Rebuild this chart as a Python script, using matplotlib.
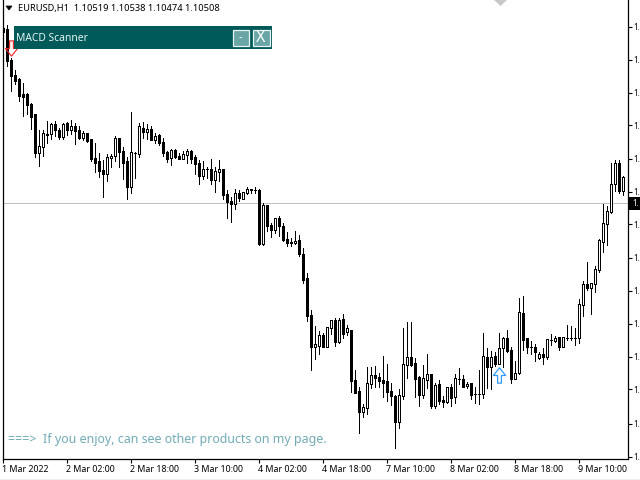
import matplotlib
matplotlib.use("Agg")
import matplotlib.pyplot as plt
from matplotlib.patches import Rectangle, Polygon
from matplotlib.path import Path
from matplotlib.transforms import Affine2D, ScaledTranslation

symbol_line = "EURUSD,H1  1.10519 1.10538 1.10474 1.10508"
panel_title = "MACD Scanner"
footer_note = "===>  If you enjoy, can see other products on my page."
time_labels = ["1 Mar 2022", "2 Mar 02:00", "2 Mar 18:00", "3 Mar 10:00", "4 Mar 02:00",
               "4 Mar 18:00", "7 Mar 10:00", "8 Mar 02:00", "8 Mar 18:00", "9 Mar 10:00"]

# pips above 1.0754
highs = [478,475,443,431,423,417,408,397,387,371,371,380,377,380,373,378,379,381,377,374,
         370,368,362,358,348,341,347,347,365,363,353,344,389,349,377,379,376,374,368,367,
         363,350,352,352,348,350,352,351,346,341,340,333,342,333,341,332,311,304,312,311,
         309,313,312,313,312,298,295,278,283,285,278,269,263,270,266,252,228,191,175,170,
         168,173,180,183,183,187,176,171,131,113,97,133,134,135,128,145,137,118,106,111,
         172,179,179,143,125,136,147,127,118,121,105,113,117,127,132,126,119,117,113,131,
         168,152,150,149,168,164,171,153,140,203,205,163,160,157,149,152,162,167,165,164,
         164,176,174,172,202,220,239,218,234,262,296,294,337,341,341,325]
opens = [473,472,440,426,421,407,406,396,386,348,353,366,367,376,371,364,377,371,374,371,
         363,368,361,343,339,331,327,343,345,362,350,339,313,348,347,373,369,372,361,365,
         358,349,343,351,345,342,346,350,343,337,325,332,332,321,329,332,307,300,297,308,
         302,308,312,311,311,257,295,275,271,282,274,262,259,258,260,247,222,186,153,155,
         166,154,172,181,159,181,169,171,120,109,89,93,117,126,124,121,119,110,105,79,
         105,136,144,137,123,106,121,127,95,116,101,99,113,104,122,122,115,117,107,107,
         107,144,134,145,137,152,162,151,122,128,188,162,153,153,143,147,144,161,160,163,
         153,163,163,163,163,196,216,212,217,231,259,277,289,316,337,310]
closes = [469,440,425,420,405,404,395,384,348,354,367,367,376,371,364,376,371,374,370,363,
          368,360,342,338,330,327,343,345,362,349,338,313,348,348,374,369,372,361,365,357,
          348,342,351,344,342,347,350,342,336,325,332,332,321,330,332,306,299,297,308,303,
          309,312,311,311,257,295,274,271,282,274,261,258,258,260,247,221,185,154,156,166,
          154,173,180,159,181,167,172,120,108,89,93,118,126,123,120,118,109,105,79,106,
          136,144,136,122,106,122,127,95,116,100,99,113,103,122,122,114,117,106,107,107,
          144,134,144,137,152,162,150,122,128,188,161,153,153,149,147,144,161,161,163,153,
          163,163,163,163,196,216,212,217,232,260,277,290,316,337,310,323]
lows = [467,434,410,416,400,385,387,372,344,334,345,358,362,365,362,362,366,367,356,362,
        361,359,340,329,324,304,320,333,340,333,322,302,308,323,344,363,362,361,358,355,
        345,339,335,343,342,342,338,337,327,316,322,323,317,309,320,302,283,279,292,300,
        302,307,308,308,255,256,270,264,268,265,260,254,254,257,245,218,180,131,142,147,
        154,154,167,155,158,163,166,109,108,68,84,87,112,113,113,104,100,96,52,72,
        102,123,135,104,95,103,112,92,93,97,94,98,95,98,117,114,112,102,98,97,
        103,112,111,135,137,134,149,118,122,127,151,148,147,140,142,137,142,156,159,151,
        153,161,161,156,158,185,211,187,209,229,249,256,288,310,308,306]
sell_signal = (2, 453)
buy_signal = (124, 126)
current_level = 297.7
axis_levels = [474,441,408,375,342,309,276,243,210,177,144,111,77,44]

BASE = 1.0754
to_price = lambda p: BASE + p / 10000.0

W, H = 640, 480
ONE_PX = 0.72
fig = plt.figure(figsize=(6.4, 4.8), dpi=100, facecolor="white")
fig.add_artist(Rectangle((0, 0), 1, 1.5 / H, transform=fig.transFigure, fc="#f0f0f0", ec="none"))
ax = fig.add_axes([2.5 / W, (H - 458.5) / H, 625 / W, 458.5 / H])
ax.set_facecolor("white")
ax.set_xlim((2.5 - 2.9) / 4, (627.5 - 2.9) / 4)
ax.set_ylim(to_price(500.5 - 458.5), to_price(500.5))

ax.axhline(to_price(current_level), color="#c0c0c0", lw=ONE_PX, zorder=1)

for i, (h, o, c, l) in enumerate(zip(highs, opens, closes, lows)):
    ax.vlines(i, to_price(l), to_price(h), color="black", lw=ONE_PX, zorder=2, antialiased=False)
    up = c >= o
    bot, top = (o, c) if up else (c, o)
    ax.add_patch(Rectangle((i - 0.25, to_price(bot)), 0.5, to_price(top) - to_price(bot),
                           fc="white" if up else "black", ec="black", lw=ONE_PX, zorder=3,
                           antialiased=False))

arrow_up = Path([(-.25, -1), (.25, -1), (.25, 0), (.8, 0), (0, 1), (-.8, 0), (-.25, 0), (-.25, -1)], closed=True)
arrow_down = Path([(-.25, 1), (.25, 1), (.25, 0), (.8, 0), (0, -1), (-.8, 0), (-.25, 0), (-.25, 1)], closed=True)
ax.plot([buy_signal[0]], [to_price(buy_signal[1])], marker=arrow_up, ms=11, mfc="white",
        mec="#3399ff", mew=0.9, zorder=5, ls="none")
ax.plot([sell_signal[0]], [to_price(sell_signal[1])], marker=arrow_down, ms=11, mfc="none",
        mec="#ee2222", mew=0.8, zorder=5, ls="none")

ax.spines["top"].set_visible(False)
for s in ["left", "right", "bottom"]:
    ax.spines[s].set_linewidth(0.9)

UI = "Noto Sans"
ax.set_xticks([16 * k for k in range(len(time_labels))])
ax.set_xticklabels(time_labels, ha="left", fontsize=6.4, family=UI)
ax.tick_params(axis="x", length=3, width=0.8, pad=1.5, color="black")
shift = ScaledTranslation(-1 / 100, 0, fig.dpi_scale_trans)
for t in ax.get_xticklabels():
    t.set_transform(t.get_transform() + shift)
ax.yaxis.tick_right()
ax.set_yticks([to_price(p) for p in axis_levels])
ax.set_yticklabels(["1."] * len(axis_levels), fontsize=5.8, family=UI, fontweight="medium")
ax.tick_params(axis="y", length=3, width=0.8, pad=1.5, color="black")

px = Affine2D().scale(1, -1).translate(0, H)

def rect(x, y, w, h, **kw):
    fig.add_artist(Rectangle((x, y), w, h, transform=px, **kw))

def label(x, y, s, **kw):
    fig.text(x, y, s, transform=px, va="center", family=UI, **kw)

# price tag
rect(629, 197, 11, 12.5, fc="black", ec="none", zorder=6)
label(632, 203.5, "1.", color="white", fontsize=5.8, zorder=7, fontweight="bold")

# header
fig.add_artist(Polygon([(6, 6), (12, 6), (9, 10)], transform=px, fc="black", ec="black", lw=0.5))
label(18, 8, symbol_line, fontsize=6.7, color="black")

# scanner panel
rect(14, 26, 258, 23, fc="#005a5a", ec="none", zorder=8)
label(16, 38.5, panel_title, fontsize=7.4, color="#e8f4f4", zorder=9)
rect(232.5, 29.5, 16, 16, fc="#6aa6a6", ec="#e8f4f4", lw=0.9, zorder=9)
rect(252.5, 29.5, 17, 16, fc="#6aa6a6", ec="#e8f4f4", lw=0.9, zorder=9)
label(240.5, 38, "-", fontsize=8, color="white", ha="center", zorder=10)
label(261, 38, "X", fontsize=11.5, color="white", ha="center", zorder=10)

# footer note
label(8, 440, footer_note, fontsize=8.97, color="#72abb8")

# top edge marker
fig.add_artist(Polygon([(494, 0), (507, 0), (500.5, 6)], transform=px, fc="#c8c8c8", ec="none"))

fig.savefig("out.png", dpi=100, facecolor="white")
